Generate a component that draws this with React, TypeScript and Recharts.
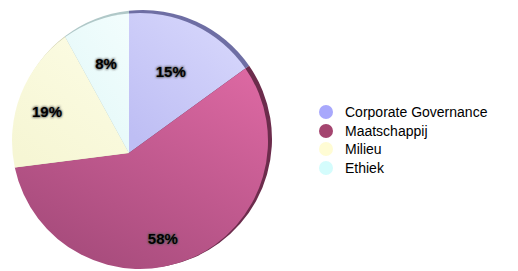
import { Legend, Pie, PieChart } from "recharts";

const names = ["Corporate Governance", "Maatschappij", "Milieu", "Ethiek"];
const shares = [15, 58, 19, 8];

const faceTop = ["#d8d8fc", "#dc68a2", "#fcfce4", "#f2fdfd"];
const faceBottom = ["#bebef4", "#a44a7a", "#f6f6d4", "#e2f8f8"];
const rimColors = ["#6e6ea4", "#6c2c4c", "#d0d0b0", "#b0c8c8"];
const legendColors = ["#a8a8fc", "#a4456f", "#fffcd4", "#d4fcfc"];

const data = names.map((name, i) => ({ name, value: shares[i] }));

// the face disc sits a little off the apex, like a tilted 3D pie
const FACE_OFFSET = { x: 11, y: -12, r: 128 };
const RIM_OFFSET = { x: 14, y: -14, r: 129 };

const rayHit = (px: number, py: number, angle: number, ccx: number, ccy: number, r: number) => {
  const rad = (angle * Math.PI) / 180;
  const dx = Math.cos(rad);
  const dy = -Math.sin(rad);
  const fx = px - ccx;
  const fy = py - ccy;
  const b = fx * dx + fy * dy;
  const c = fx * fx + fy * fy - r * r;
  const t = -b + Math.sqrt(b * b - c);
  return { x: px + t * dx, y: py + t * dy };
};

const wedgePath = (cx: number, cy: number, a1: number, a2: number, off: { x: number; y: number; r: number }) => {
  const ccx = cx + off.x;
  const ccy = cy + off.y;
  const p1 = rayHit(cx, cy, a1, ccx, ccy, off.r);
  const p2 = rayHit(cx, cy, a2, ccx, ccy, off.r);
  const t1 = Math.atan2(p1.y - ccy, p1.x - ccx);
  const t2 = Math.atan2(p2.y - ccy, p2.x - ccx);
  let span = t2 - t1;
  while (span < 0) span += Math.PI * 2;
  const large = span > Math.PI ? 1 : 0;
  return `M${cx},${cy} L${p1.x},${p1.y} A${off.r},${off.r} 0 ${large} 1 ${p2.x},${p2.y} Z`;
};

const TiltedSector = (props: any) => {
  const { cx, cy, startAngle, endAngle, name } = props;
  const i = names.indexOf(name);
  return (
    <g>
      <defs>
        <linearGradient id={`face-${i}`} x1="0.9" y1="0" x2="0.2" y2="1">
          <stop offset="0%" stopColor={faceTop[i]} />
          <stop offset="100%" stopColor={faceBottom[i]} />
        </linearGradient>
      </defs>
      <path d={wedgePath(cx, cy, startAngle, endAngle, RIM_OFFSET)} fill={rimColors[i]} />
      <path d={wedgePath(cx, cy, startAngle, endAngle, FACE_OFFSET)} fill={`url(#face-${i})`} />
    </g>
  );
};

const renderLabel = (props: any) => {
  const { cx, cy, midAngle, percent } = props;
  const rad = (midAngle * Math.PI) / 180;
  const x = cx + 92 * Math.cos(rad);
  const y = cy - 92 * Math.sin(rad);
  const text = `${Math.round(percent * 100)}%`;
  return (
    <g>
      <defs>
        <filter id="label-glow" x="-50%" y="-50%" width="200%" height="200%">
          <feGaussianBlur stdDeviation="1.2" />
        </filter>
      </defs>
      <text x={x} y={y} textAnchor="middle" dominantBaseline="central" fontSize={15} fontWeight="bold"
        fill="#555" stroke="#555" strokeWidth={1} filter="url(#label-glow)">
        {text}
      </text>
      <text x={x} y={y} textAnchor="middle" dominantBaseline="central" fontSize={15} fontWeight="bold" fill="#000">
        {text}
      </text>
    </g>
  );
};

const renderLegend = () => (
  <div>
    {names.map((name, i) => (
      <div key={name} style={{ display: "flex", alignItems: "center", height: 18.5 }}>
        <span style={{ width: 14, height: 14, borderRadius: 7, background: legendColors[i], marginRight: 12 }} />
        <span style={{ fontSize: 14, color: "#000" }}>{name}</span>
      </div>
    ))}
  </div>
);

export default function App() {
  return (
    <div style={{ position: "fixed", left: 0, top: 0, width: 518, height: 271, background: "#fff", fontFamily: "'Liberation Sans', Arial, sans-serif" }}>
      <PieChart width={518} height={271} margin={{ top: 0, right: 0, bottom: 0, left: 0 }}>
        <Pie
          data={data}
          dataKey="value"
          nameKey="name"
          cx={129}
          cy={153}
          outerRadius={128}
          startAngle={90}
          endAngle={-270}
          stroke="none"
          shape={TiltedSector}
          label={renderLabel}
          labelLine={false}
          isAnimationActive={false}
        />
        <Legend content={renderLegend} wrapperStyle={{ left: 319, top: 103, width: 190 }} />
      </PieChart>
    </div>
  );
}
